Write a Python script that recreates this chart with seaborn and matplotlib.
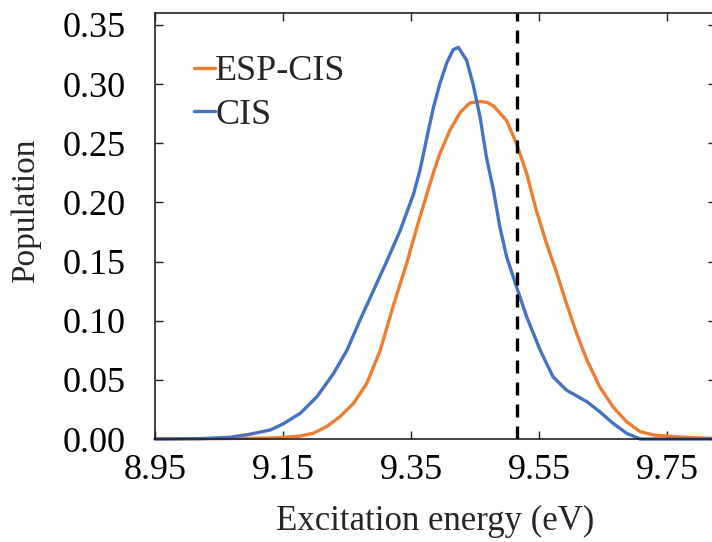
import numpy as np
import pandas as pd
import matplotlib
matplotlib.use("Agg")
import matplotlib.pyplot as plt
import seaborn as sns

# ---- data ----
cis_x = [8.95, 9.020, 9.067, 9.098, 9.130, 9.150, 9.177, 9.203, 9.229, 9.250,
         9.270, 9.291, 9.312, 9.333, 9.354, 9.364, 9.375, 9.385, 9.395, 9.406,
         9.416, 9.424, 9.437, 9.447, 9.458, 9.468, 9.479, 9.489, 9.4995, 9.515,
         9.531, 9.552, 9.572, 9.593, 9.625, 9.645, 9.666, 9.687, 9.708, 9.76, 9.826]
cis_y = [0.0, 0.0003, 0.0014, 0.004, 0.0076, 0.0127, 0.0217, 0.0357, 0.0554, 0.075,
         0.100, 0.125, 0.150, 0.176, 0.207, 0.227, 0.255, 0.280, 0.300, 0.318,
         0.329, 0.331, 0.320, 0.300, 0.272, 0.238, 0.210, 0.179, 0.154, 0.1285,
         0.103, 0.075, 0.0526, 0.0413, 0.0315, 0.023, 0.0132, 0.0048, 0.0, 0.0, 0.0]

esp_x = [8.95, 9.05, 9.125, 9.150, 9.177, 9.197, 9.218, 9.239, 9.260, 9.281,
         9.302, 9.322, 9.343, 9.364, 9.385, 9.395, 9.411, 9.427, 9.442, 9.458,
         9.469, 9.479, 9.4995, 9.515, 9.531, 9.546, 9.562, 9.578, 9.593, 9.609, 9.625,
         9.645, 9.666, 9.687, 9.708, 9.729, 9.760, 9.802, 9.826]
esp_y = [0.0, 0.0003, 0.0008, 0.0014, 0.0025, 0.0048, 0.0104, 0.0188, 0.030, 0.047,
         0.075, 0.112, 0.148, 0.1876, 0.225, 0.241, 0.261, 0.276, 0.284, 0.2852,
         0.2845, 0.2815, 0.269, 0.2495, 0.224, 0.193, 0.165, 0.140, 0.1145, 0.089, 0.0667,
         0.044, 0.027, 0.0146, 0.0062, 0.0034, 0.002, 0.0008, 0.0005]

series_names = ["ESP-CIS", "CIS"]
colors = {"ESP-CIS": "#ED7D31", "CIS": "#4472C4"}
ref_energy = 9.515

x_ticks = [8.95, 9.15, 9.35, 9.55, 9.75]
y_ticks = [0.00, 0.05, 0.10, 0.15, 0.20, 0.25, 0.30, 0.35]

df = pd.concat([
    pd.DataFrame({"energy": esp_x, "pop": esp_y, "method": "ESP-CIS"}),
    pd.DataFrame({"energy": cis_x, "pop": cis_y, "method": "CIS"}),
], ignore_index=True)

sns.set_style("ticks")
plt.rcParams["font.family"] = ["Liberation Serif", "DejaVu Serif"]

fig = plt.figure(figsize=(7.12, 5.42), dpi=100)
ax = fig.add_axes([155/712, 1 - 439/542, 1.005 - 155/712, (439 - 13)/542])

sns.lineplot(data=df, x="energy", y="pop", hue="method", hue_order=series_names,
             palette=colors, linewidth=2.4, ax=ax, sort=True, estimator=None,
             clip_on=False)
for ln in ax.get_lines():
    ln.set_solid_joinstyle("round")

ax.axvline(ref_energy, color="black", linewidth=2.4, linestyle=(0, (3.9, 2.7)))

ax.set_xlim(8.95, 8.95 + 0.876)
ax.set_ylim(0, 0.36)
ax.set_xticks(x_ticks)
ax.set_xticklabels([f"{v:.2f}" for v in x_ticks])
ax.set_yticks(y_ticks)
ax.set_yticklabels([f"{v:.2f}" for v in y_ticks])

ax.tick_params(axis="both", direction="in", length=6, width=1, labelsize=26,
               top=True, right=True, colors="#222222", labelcolor="black")
ax.tick_params(axis="x", pad=11)
ax.tick_params(axis="y", pad=21)
for s in ax.spines.values():
    s.set_linewidth(1.2)
    s.set_color("#222222")

ax.set_xlabel("Excitation energy (eV)", fontsize=25)
ax.set_ylabel("Population", fontsize=24)
ax.yaxis.set_label_coords(-0.203, 0.535)
ax.xaxis.set_label_coords(0.5, -0.155)

leg = ax.legend(title=None, fontsize=26, frameon=False, loc="upper left",
                bbox_to_anchor=(0.043, 0.935), handlelength=0.6, handletextpad=0.0,
                labelspacing=0.28, borderaxespad=0)

fig.savefig("out.png", dpi=100)
